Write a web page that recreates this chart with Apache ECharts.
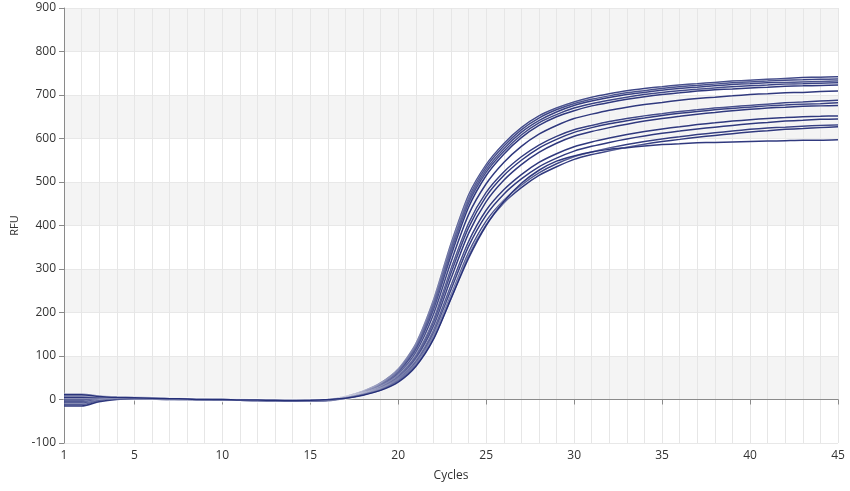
<!DOCTYPE html>
<html>
<head>
<meta charset="utf-8">
<script src="https://cdn.jsdelivr.net/npm/echarts@6/dist/echarts.min.js"></script>
<style>
html,body{margin:0;padding:0;background:#fff;}
#chart{width:850px;height:491px;}
</style>
</head>
<body>
<div id="chart"></div>
<script>
var cycles = [];
for (var i = 1; i <= 45; i++) cycles.push(String(i));
var yTicks = [-100, 0, 100, 200, 300, 400, 500, 600, 700, 800, 900];

var curve1 = [12,12,8,6,5,4,3,2,1,1,0,-1,-2,-2,-2,0, 7,19,38,70,128,228,358,470,540,588,625,652,670,684,695,703,710,715,719,723,726,729,732,734,736,738,740,741,742];
var curve2 = [10,10,7,6,5,4,3,2,1,0,0,-1,-1,-2,-1,0, 7,18,36,68,124,222,350,462,534,582,620,647,666,680,690,698,705,710,715,719,722,725,728,730,732,734,735,736,737];
var curve3 = [8,8,6,5,4,3,2,2,1,0,-1,-1,-2,-2,-2,-1, 6,17,35,66,121,218,345,456,528,576,614,641,661,676,686,694,701,706,711,715,718,721,724,726,728,729,730,731,732];
var curve4 = [6,6,5,5,4,3,2,1,1,0,-1,-2,-2,-3,-2,0, 6,17,34,64,118,212,338,450,522,570,608,636,655,670,680,688,695,701,706,710,713,716,719,721,723,725,726,727,728];
var curve5 = [4,4,4,4,3,3,2,1,0,0,-1,-2,-3,-3,-2,-1, 6,16,33,62,114,205,330,442,515,564,602,630,650,664,675,683,690,696,701,705,709,712,714,716,718,720,721,722,723];
var curve6 = [2,2,3,4,3,2,2,1,0,0,-1,-2,-2,-3,-3,-1, 5,15,31,59,108,195,316,425,496,545,582,610,630,646,656,665,672,678,683,688,692,695,698,701,703,705,706,708,709];
var curve7 = [0,0,2,3,3,2,1,1,0,-1,-1,-2,-3,-3,-2,-1, 5,14,29,55,101,182,300,405,476,523,558,585,605,620,630,639,646,652,657,662,666,670,673,676,679,682,684,686,688];
var curve8 = [-2,-2,1,3,3,2,1,0,0,-1,-2,-2,-3,-3,-3,-1, 5,14,28,53,98,176,290,395,467,515,550,578,598,614,625,634,641,647,653,658,662,666,669,672,675,677,679,680,682];
var curve9 = [-5,-5,0,2,2,2,1,0,0,-1,-2,-3,-3,-4,-3,-2, 4,13,27,51,94,168,278,382,455,504,540,568,589,605,616,625,633,640,646,651,656,660,664,667,670,672,674,675,676];
var curve10 = [-8,-8,-2,2,2,1,1,0,-1,-1,-2,-3,-3,-4,-3,-2, 4,12,25,48,88,158,262,363,435,482,517,545,565,581,592,601,609,616,622,627,632,636,640,643,646,648,650,651,652];
var curve11 = [-12,-12,-3,1,2,1,0,0,-1,-1,-2,-3,-4,-4,-3,-2, 4,12,24,46,85,152,252,352,424,472,507,535,555,571,582,591,599,606,612,617,622,626,630,634,637,640,642,644,645];
var curve12 = [-15,-15,-5,0,1,1,0,0,-1,-2,-2,-3,-4,-4,-4,-3, 3,11,23,44,81,145,240,338,410,458,493,521,542,558,569,578,586,593,599,604,609,613,617,621,624,626,628,630,631];
var curve13 = [5,5,4,4,3,3,2,1,0,0,-1,-1,-2,-2,-2,-1, 3,11,22,42,78,140,232,330,402,452,487,515,535,552,563,572,580,587,593,598,603,607,611,615,618,621,623,625,627];
var curve14 = [11,11,7,5,4,3,2,1,0,0,-1,-1,-2,-3,-2,0, 3,10,21,40,76,138,232,325,400,455,497,527,548,560,569,575,579,583,586,588,590,591,592,593,594,595,596,596,597];

var curves = [curve1,curve2,curve3,curve4,curve5,curve6,curve7,curve8,curve9,curve10,curve11,curve12,curve13,curve14];

var showIdx = function (idx) { return idx === 0 || (idx + 1) % 5 === 0; };

var series = curves.map(function (d) {
  return {
    type: 'line',
    data: d,
    symbol: 'none',
    smooth: 0.25,
    lineStyle: {
      color: '#1a2470',
      width: 1.5,
      opacity: 0.9,
      shadowColor: 'rgba(255,255,255,0.95)',
      shadowBlur: 2
    },
    emphasis: { disabled: true }
  };
});

var chart = echarts.init(document.getElementById('chart'), null, { renderer: 'canvas' });
chart.setOption({
  animation: false,
  backgroundColor: '#ffffff',
  grid: { left: 64, right: 12, top: 8, bottom: 48, containLabel: false },
  xAxis: {
    type: 'category',
    data: cycles,
    boundaryGap: false,
    name: 'Cycles',
    nameLocation: 'middle',
    nameGap: 27,
    nameTextStyle: { fontFamily: 'Open Sans', fontSize: 12, color: '#333' },
    axisLine: { lineStyle: { color: '#8a8a8a', width: 1 } },
    axisTick: { show: true, interval: showIdx, length: 5, lineStyle: { color: '#8a8a8a' } },
    axisLabel: { interval: showIdx, fontFamily: 'Open Sans', fontSize: 12, color: '#333', margin: 7 },
    splitLine: { show: true, interval: 0, lineStyle: { color: '#e6e6e6', width: 1 } }
  },
  yAxis: {
    type: 'value',
    min: yTicks[0],
    max: yTicks[yTicks.length - 1],
    interval: 100,
    name: 'RFU',
    nameLocation: 'middle',
    nameGap: 40,
    nameRotate: 90,
    nameTextStyle: { fontFamily: 'Open Sans', fontSize: 11, color: '#333' },
    axisLine: { show: true, lineStyle: { color: '#8a8a8a', width: 1 } },
    axisTick: { show: true, length: 5, lineStyle: { color: '#8a8a8a' } },
    axisLabel: { fontFamily: 'Open Sans', fontSize: 12, color: '#333', margin: 8 },
    splitLine: { show: true, lineStyle: { color: '#e8e8e8', width: 1 } },
    splitArea: { show: true, areaStyle: { color: ['#ffffff', '#f4f4f4'] } }
  },
  series: series
});
</script>
</body>
</html>
